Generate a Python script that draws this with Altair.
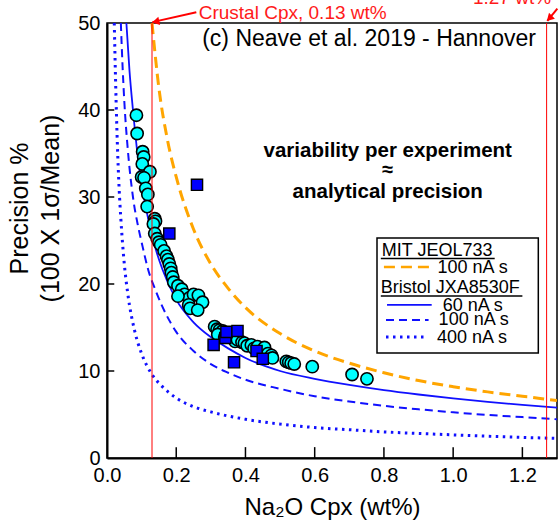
import altair as alt
import pandas as pd

FONT = "Liberation Sans"

# ---------------- data ----------------
# cyan circles (Neave et al. 2019 - Hannover)
circ_na = [0.085, 0.087, 0.103, 0.106, 0.102, 0.124, 0.100, 0.107, 0.112, 0.118,
           0.116, 0.138, 0.140, 0.134, 0.138, 0.145, 0.150, 0.155, 0.165, 0.172,
           0.176, 0.180, 0.184, 0.186, 0.190, 0.193, 0.205, 0.216, 0.224, 0.238,
           0.250, 0.264, 0.276, 0.236, 0.240, 0.262, 0.205, 0.311, 0.318, 0.325,
           0.334, 0.320, 0.340, 0.350, 0.360, 0.370, 0.377, 0.390, 0.397, 0.405,
           0.417, 0.425, 0.435, 0.445, 0.455, 0.465, 0.475, 0.478, 0.518, 0.525,
           0.532, 0.541, 0.593, 0.708, 0.751]
circ_prec = [39.4, 37.3, 35.2, 34.6, 33.8, 32.9, 32.3, 32.2, 31.0, 30.3,
             28.9, 27.5, 27.2, 26.9, 25.8, 25.2, 24.8, 24.5, 23.8, 23.2,
             22.8, 22.3, 21.8, 21.3, 20.8, 20.2, 19.8, 19.4, 18.8, 18.4,
             18.8, 18.7, 17.9, 17.6, 17.2, 17.0, 18.6, 15.1, 14.8, 14.7,
             14.6, 14.2, 13.9, 14.0, 13.9, 13.4, 13.6, 13.3, 13.2, 12.9,
             13.0, 12.6, 12.8, 12.2, 12.7, 12.0, 11.8, 11.5, 11.1, 11.0,
             10.9, 10.8, 10.5, 9.6, 9.1]

# blue squares
sq_na = [0.260, 0.180, 0.308, 0.342, 0.345, 0.377, 0.367, 0.432, 0.450]
sq_prec = [31.4, 25.8, 13.0, 13.8, 14.5, 14.6, 11.0, 12.3, 11.4]

# MIT JEOL733, 100 nA s (orange dashed)
mit100_x = [0.13, 0.15, 0.175, 0.2, 0.25, 0.3, 0.35, 0.4, 0.5, 0.6, 0.7, 0.8, 0.9, 1.0, 1.1, 1.2, 1.3]
mit100_y = [50, 42.5, 36.5, 32.3, 26.3, 22.3, 19.5, 17.3, 14.3, 12.3, 10.9, 9.8, 8.9, 8.2, 7.6, 7.1, 6.6]

# Bristol JXA8530F, 60 nA s (solid)
b60_x = [0.056, 0.065, 0.075, 0.09, 0.1, 0.12, 0.14, 0.16, 0.2, 0.25, 0.3, 0.35, 0.4, 0.5,
         0.6, 0.7, 0.8, 0.9, 1.0, 1.1, 1.2, 1.3]
b60_y = [50, 44.5, 40, 34.3, 31.5, 27.3, 24.1, 21.7, 18.2, 15.6, 13.9, 12.6, 11.5, 10.0,
         9.1, 8.4, 7.8, 7.3, 6.85, 6.45, 6.1, 5.8]

# Bristol JXA8530F, 100 nA s (dashed)
b100_x = [0.040, 0.045, 0.05, 0.06, 0.075, 0.09, 0.1, 0.12, 0.14, 0.16, 0.2, 0.25, 0.3, 0.35,
          0.4, 0.5, 0.6, 0.7, 0.8, 0.9, 1.0, 1.1, 1.2, 1.3]
b100_y = [50, 45, 41, 35.5, 30, 26.6, 24.8, 21.5, 19.3, 17.4, 14.5, 12.3, 10.8, 9.8,
          9.0, 7.95, 7.1, 6.5, 6.0, 5.6, 5.25, 4.95, 4.7, 4.45]

# Bristol JXA8530F, 400 nA s (dotted)
b400_x = [0.021, 0.025, 0.03, 0.035, 0.04, 0.05, 0.06, 0.08, 0.1, 0.13, 0.16, 0.2, 0.25, 0.3,
          0.4, 0.5, 0.6, 0.7, 0.8, 0.9, 1.0, 1.1, 1.2, 1.3]
b400_y = [50, 43, 36, 31, 27.5, 22.3, 18.9, 14.6, 12.0, 9.6, 8.2, 6.9, 5.9, 5.3,
          4.45, 3.9, 3.5, 3.25, 3.0, 2.82, 2.66, 2.5, 2.37, 2.25]

ref_lines = [0.13, 1.27]
x_ticks = [0.2, 0.4, 0.6, 0.8, 1.0, 1.2]
y_ticks = [10, 20, 30, 40]

# ---------------- scales / axes ----------------
xs = alt.Scale(domain=[0, 1.3], nice=False, zero=False)
ys = alt.Scale(domain=[0, 50], nice=False, zero=False)

xaxis = alt.Axis(title="Na₂O Cpx (wt%)", values=[0, 0.2, 0.4, 0.6, 0.8, 1.0, 1.2],
                 format=".1f", ticks=False, tickSize=0, labelPadding=7, grid=False,
                 labelFlush=False,
                 labelFont=FONT, labelFontSize=20, labelColor="black",
                 titleFont=FONT, titleFontSize=24, titleFontWeight="normal", titleColor="black",
                 titleY=56, titleBaseline="alphabetic",
                 domainColor="black", domainWidth=2, labelOverlap=False)
yaxis = alt.Axis(title=["Precision %", "(100 X 1σ/Mean)"], values=[0, 10, 20, 30, 40, 50],
                 ticks=False, tickSize=0, labelPadding=7, grid=False, labelFlush=False,
                 labelFont=FONT, labelFontSize=20, labelColor="black",
                 titleFont=FONT, titleFontSize=25, titleFontWeight="normal", titleColor="black",
                 titleAngle=270, titleX=-80, titleY=185, titleAlign="center",
                 titleBaseline="alphabetic", titleLineHeight=31,
                 domainColor="black", domainWidth=2, labelOverlap=False)


def X(f):
    return alt.X(f, type="quantitative", scale=xs, axis=xaxis)


def Y(f):
    return alt.Y(f, type="quantitative", scale=ys, axis=yaxis)


def curve(xv, yv, color, dash, width):
    df = pd.DataFrame({"x": xv, "y": yv})
    kw = dict(color=color, strokeWidth=width, interpolate="monotone", clip=True)
    if dash:
        kw["strokeDash"] = dash
    return alt.Chart(df).mark_line(**kw).encode(x=X("x"), y=Y("y"))


c_mit = curve(mit100_x, mit100_y, "#FFA500", [11, 6], 3)
c60 = curve(b60_x, b60_y, "#1010FF", None, 1.8)
c100 = curve(b100_x, b100_y, "#1010FF", [8, 5], 2)
c400 = curve(b400_x, b400_y, "#1010FF", [2.5, 4.5], 3)

circles = alt.Chart(pd.DataFrame({"x": circ_na, "y": circ_prec})).mark_point(
    shape="circle", filled=True, fill="#00FFFF", stroke="black", strokeWidth=1.6,
    size=150, opacity=1).encode(x=X("x"), y=Y("y"))
squares = alt.Chart(pd.DataFrame({"x": sq_na, "y": sq_prec})).mark_point(
    shape="square", filled=True, fill="#0000FF", stroke="black", strokeWidth=1.4,
    size=125, opacity=1).encode(x=X("x"), y=Y("y"))

red = alt.Chart(pd.DataFrame({"x": ref_lines})).mark_rule(color="#FF0000", strokeWidth=1).encode(
    x=X("x"), y=alt.datum(0, scale=ys), y2=alt.datum(50))

xt = alt.Chart(pd.DataFrame({"x": x_ticks})).mark_rule(color="black", strokeWidth=1.5).encode(
    x=X("x"), y=alt.datum(0, scale=ys), y2=alt.datum(1.25))
yt = alt.Chart(pd.DataFrame({"y": y_ticks})).mark_rule(color="black", strokeWidth=1.5).encode(
    y=Y("y"), x=alt.datum(0, scale=xs), x2=alt.datum(0.021))

# ---------------- annotations ----------------
arrows = pd.DataFrame({"x": [0.258, 1.301], "y": [51.24, 51.66],
                       "x2": [0.131, 1.272], "y2": [50.1, 50.25]})
arrow_lines = alt.Chart(arrows).mark_rule(color="#FF0000", strokeWidth=2).encode(
    x=X("x"), y=Y("y"), x2="x2", y2="y2")
heads = pd.DataFrame({"x": [0.1407, 1.278], "y": [50.16, 50.53], "a": [77.5, 45]})
arrow_heads = alt.Chart(heads).mark_point(shape="triangle-down", filled=True, color="#FF0000",
                                          size=70, opacity=1).encode(
    x=X("x"), y=Y("y"), angle=alt.Angle("a:Q", scale=None))


def txt(x, y, s, size, color="black", align="left", weight="normal"):
    return alt.Chart(pd.DataFrame({"x": [x], "y": [y], "t": [s]})).mark_text(
        align=align, baseline="alphabetic", font=FONT, fontSize=size, color=color,
        fontWeight=weight).encode(x=X("x"), y=Y("y"), text="t:N")


t_crust = txt(0.265, 50.48, "Crustal Cpx, 0.13 wt%", 19, "#FF1A1A")
t_127 = txt(1.283, 52.2, "1.27 wt%", 19, "#FF1A1A", align="right")
t_title = txt(0.757, 47.4, "(c) Neave et al. 2019 - Hannover", 23, align="center")
t_v1 = txt(0.811, 34.6, "variability per experiment", 20.5, align="center", weight="bold")
t_v2 = txt(0.811, 32.4, "≈", 20, align="center", weight="bold")
t_v3 = txt(0.811, 29.9, "analytical precision", 20.5, align="center", weight="bold")

# ---------------- legend box ----------------
box = alt.Chart(pd.DataFrame({"x": [0.780], "x2": [1.246], "y": [25.28], "y2": [12.08]})).mark_rect(
    fill="white", stroke="black", strokeWidth=1.5).encode(x=X("x"), x2="x2", y=Y("y"), y2="y2")


def seg(x1, x2, y, color, dash, width):
    kw = dict(color=color, strokeWidth=width)
    if dash:
        kw["strokeDash"] = dash
    return alt.Chart(pd.DataFrame({"x": [x1], "x2": [x2], "y": [y]})).mark_rule(**kw).encode(
        x=X("x"), x2="x2", y=Y("y"))


LF = 18
leg = [
    txt(0.794, 23.21, "MIT JEOL733", LF),
    seg(0.791, 1.120, 22.92, "black", None, 1.5),
    seg(0.800, 0.935, 21.95, "#FFA500", [11, 6], 2.5),
    txt(0.955, 21.26, "100 nA s", LF),
    txt(0.791, 18.97, "Bristol JXA8530F", LF),
    seg(0.791, 1.200, 18.62, "black", None, 1.5),
    seg(0.809, 0.938, 17.59, "#1010FF", None, 1.8),
    txt(0.970, 16.90, "60 nA s", LF),
    seg(0.806, 0.929, 15.87, "#1010FF", [8, 5], 2),
    txt(0.958, 15.29, "100 nA s", LF),
    seg(0.806, 0.924, 13.92, "#1010FF", [2.5, 4.5], 3),
    txt(0.953, 13.23, "400 nA s", LF),
]

chart = alt.layer(
    c400, c100, c60, c_mit, circles, squares, red, xt, yt,
    t_title, t_v1, t_v2, t_v3, box, *leg,
    arrow_lines, arrow_heads, t_crust, t_127,
).properties(
    width=450, height=435,
    autosize=alt.AutoSizeParams(type="none"),
    padding={"left": 107, "top": 23, "right": 2, "bottom": 62},
    background="white",
).configure_view(stroke="black", strokeWidth=1.5)

chart.save("out.html", embed_options={"renderer": "svg", "actions": False})
